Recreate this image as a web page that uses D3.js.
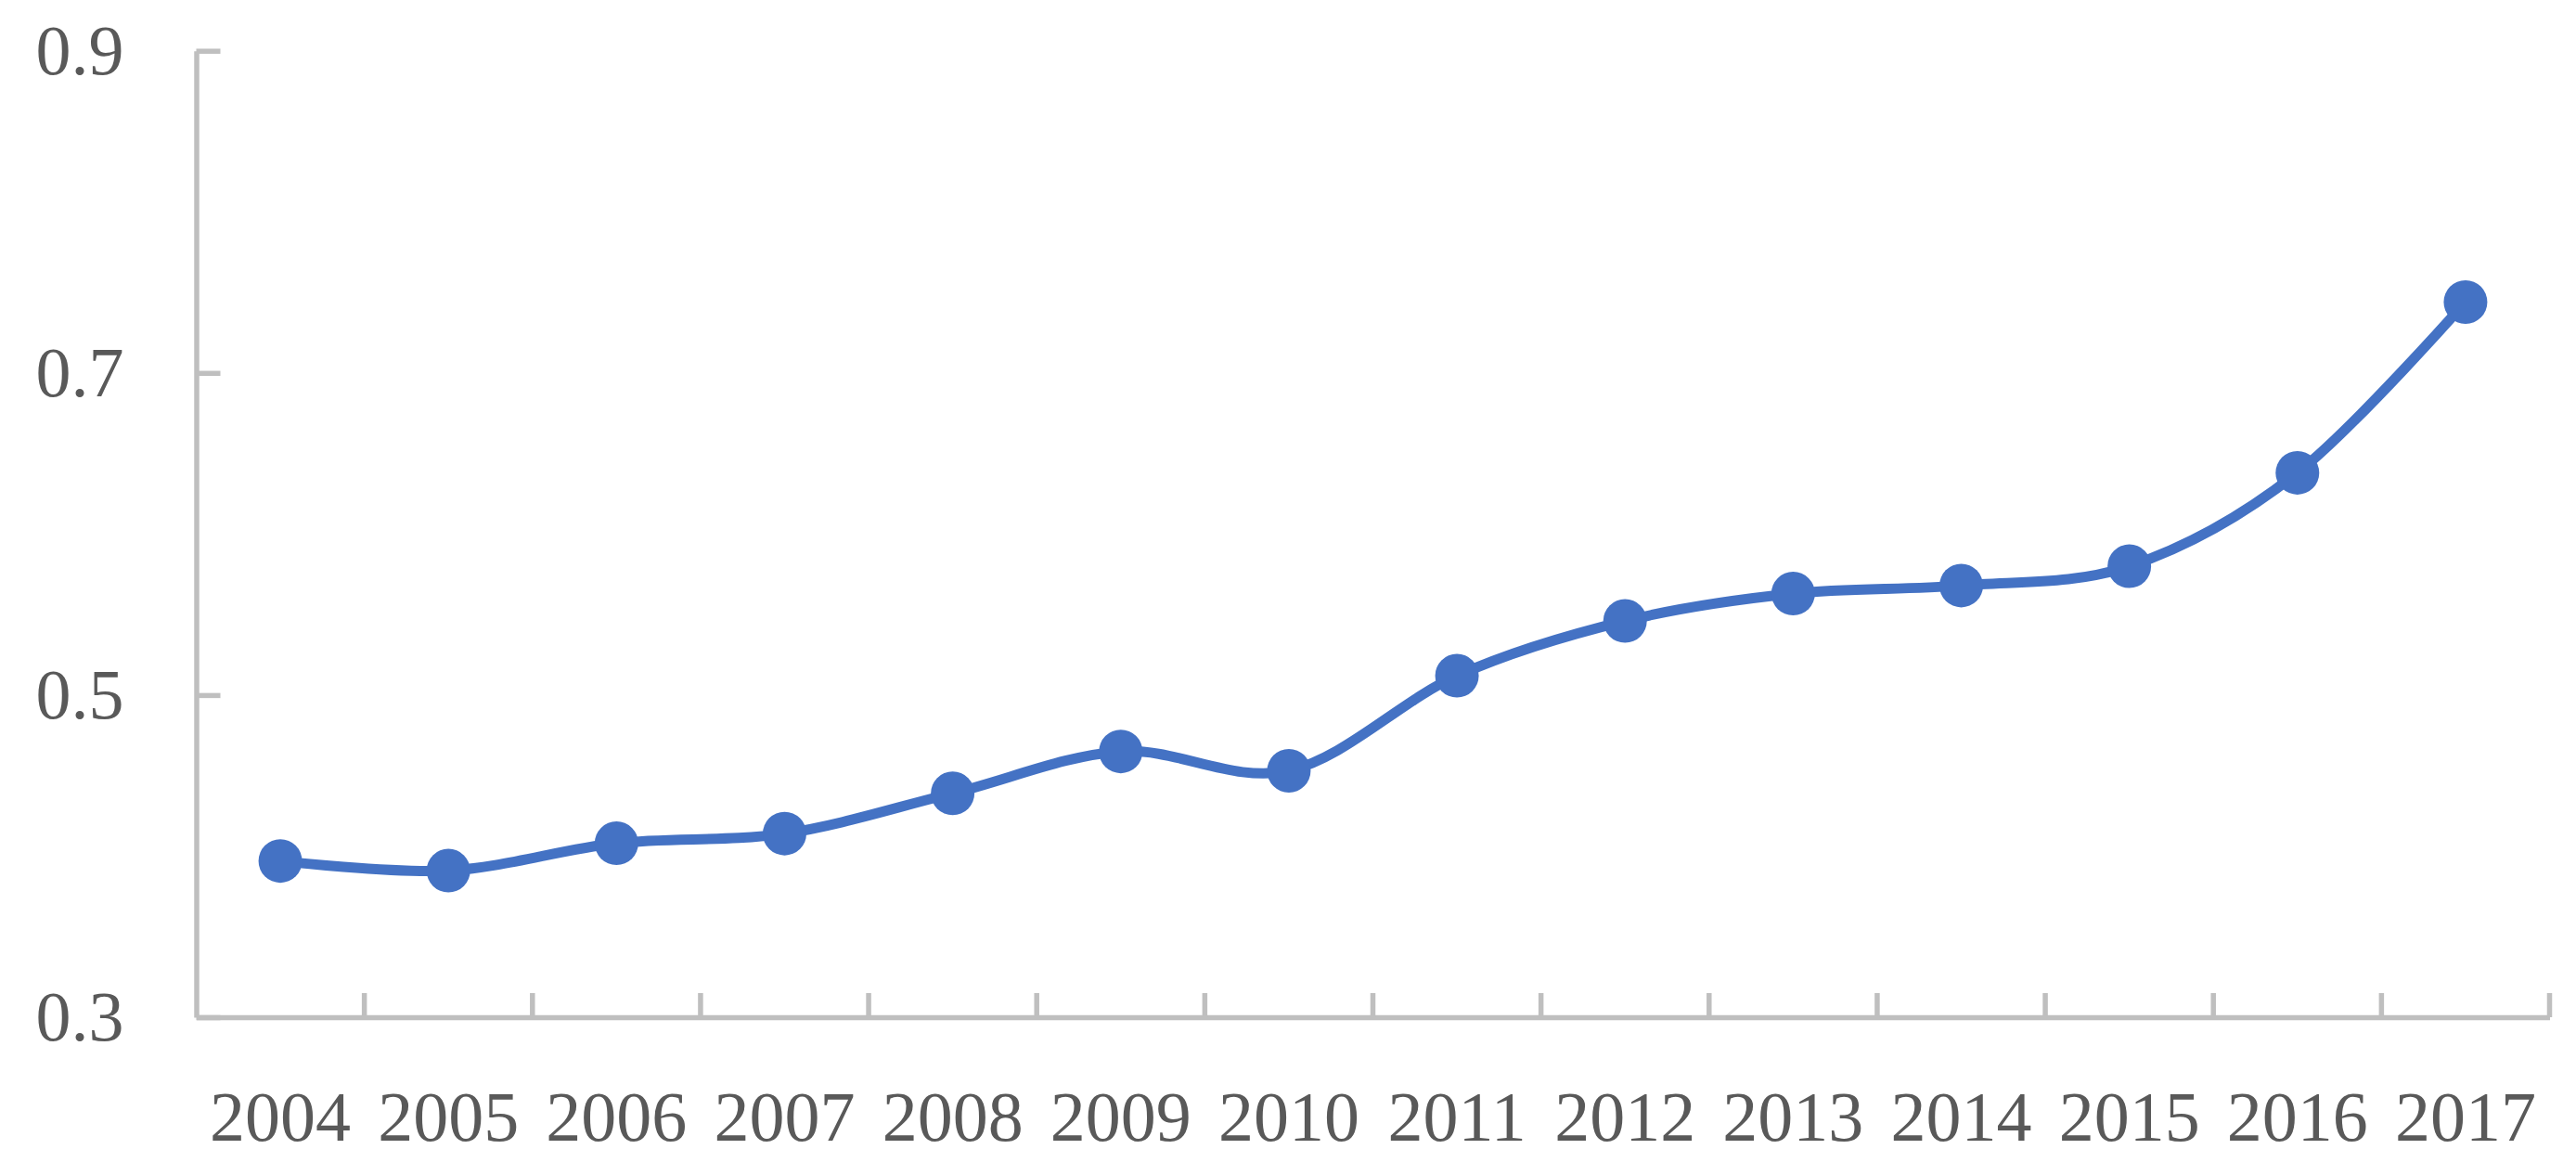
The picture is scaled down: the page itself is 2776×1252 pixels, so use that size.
<!DOCTYPE html>
<html>
<head>
<meta charset="utf-8">
<script src="https://cdn.jsdelivr.net/npm/d3@7"></script>
<style>
  html, body { margin: 0; padding: 0; background: #ffffff; }
  svg { display: block; }
</style>
</head>
<body>
<svg id="chart" width="2776" height="1252"></svg>
<script>
const years = ["2004","2005","2006","2007","2008","2009","2010","2011","2012","2013","2014","2015","2016","2017"];
const values = [0.397, 0.391, 0.408, 0.414, 0.439, 0.465, 0.453, 0.512, 0.546, 0.563, 0.568, 0.580, 0.638, 0.744];
const yTicks = [0.3, 0.5, 0.7, 0.9];

(function () {
const svg = d3.select("#chart");
const plotLeft = 211.5, plotRight = 2747.5, plotTop = 54.7, plotBottom = 1096;
const axisColor = "#bfbfbf";
const textColor = "#595959";
const lineColor = "#4472c4";
const font = "'Liberation Serif', 'DejaVu Serif', serif";

const x = d3.scaleBand().domain(years).range([plotLeft, plotRight]).padding(0);
const y = d3.scaleLinear().domain([0.3, 0.9]).range([plotBottom, plotTop]);

// Y axis
const yAxis = d3.axisLeft(y)
  .tickValues(yTicks)
  .tickFormat(d3.format(".1f"))
  .tickSizeInner(-26)
  .tickSizeOuter(0)
  .tickPadding(78);
const gy = svg.append("g").attr("transform", `translate(${plotLeft},0)`).call(yAxis);
gy.select(".domain").attr("stroke", axisColor).attr("stroke-width", 5.5);
gy.selectAll(".tick line").attr("stroke", axisColor).attr("stroke-width", 5.5);
gy.selectAll(".tick text")
  .attr("fill", textColor)
  .style("font-family", font)
  .style("font-size", "76px");

// X axis (labels centered in bands)
const xAxis = d3.axisBottom(x).tickSizeInner(0).tickSizeOuter(0).tickPadding(79);
const gx = svg.append("g").attr("transform", `translate(0,${plotBottom})`).call(xAxis);
gx.select(".domain").attr("stroke", axisColor).attr("stroke-width", 5.5);
gx.selectAll(".tick text")
  .attr("fill", textColor)
  .style("font-family", font)
  .style("font-size", "76px");

// X boundary ticks (between categories, pointing up)
const boundaries = years.slice(1).map(d => x(d)).concat([x(years[years.length - 1]) + x.bandwidth()]);
gx.selectAll(".bound")
  .data(boundaries)
  .enter().append("line")
  .attr("class", "bound")
  .attr("x1", d => d).attr("x2", d => d)
  .attr("y1", 0).attr("y2", -26)
  .attr("stroke", axisColor).attr("stroke-width", 5.5);

// Line
const pts = years.map((yr, i) => ({ yr, v: values[i] }));
const line = d3.line()
  .x(d => x(d.yr) + x.bandwidth() / 2)
  .y(d => y(d.v))
  .curve(d3.curveCatmullRom.alpha(0));
svg.append("path")
  .datum(pts)
  .attr("d", line)
  .attr("fill", "none")
  .attr("stroke", lineColor)
  .attr("stroke-width", 11)
  .attr("stroke-linecap", "round");

// Markers
svg.selectAll(".pt")
  .data(pts)
  .enter().append("circle")
  .attr("class", "pt")
  .attr("cx", d => x(d.yr) + x.bandwidth() / 2)
  .attr("cy", d => y(d.v))
  .attr("r", 23.5)
  .attr("fill", lineColor);
})();
</script>
</body>
</html>
